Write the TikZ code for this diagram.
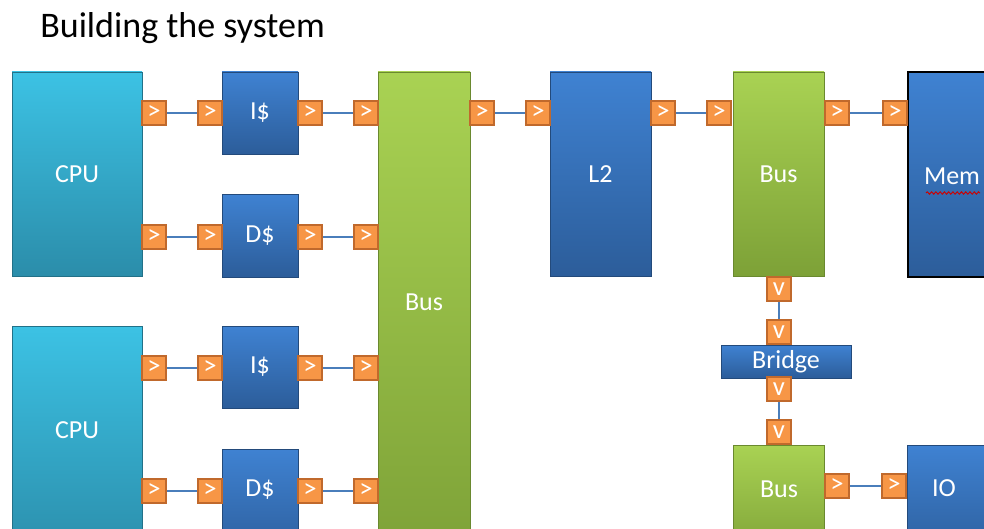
\documentclass[tikz,border=0pt]{standalone}
\usepackage{fontspec}
\setmainfont{Carlito}
\usetikzlibrary{fit,decorations.pathmorphing}
\definecolor{cyanT}{HTML}{3CC2E4}
\definecolor{cyanB}{HTML}{2B8DAA}
\definecolor{blueT}{HTML}{3F82D2}
\definecolor{blueB}{HTML}{2C5D9A}
\definecolor{greenT}{HTML}{A9D253}
\definecolor{greenB}{HTML}{7DA137}
\definecolor{portF}{HTML}{F79646}
\definecolor{portD}{HTML}{C0692C}
\definecolor{wire}{HTML}{4A7EBB}
\tikzset{
  box/.style={inner sep=0pt},
  lbl/.style={inner sep=0pt, text=white, font=\fontsize{19.5}{22}\selectfont},
  cpubox/.style={box, top color=cyanT, bottom color=cyanB, draw=cyanB!80!black, line width=0.4pt},
  bluebox/.style={box, top color=blueT, bottom color=blueB, draw=blueB!80!black, line width=0.4pt},
  busbox/.style={box, top color=greenT, bottom color=greenB, draw=greenB!85!black, line width=0.4pt},
  port/.style={draw=portD, fill=portF, line width=1.3pt, minimum size=18.5pt, inner sep=0pt,
               text=white, font=\fontsize{20}{20}\selectfont},
  conn/.style={draw=wire, line width=1.8pt},
}
\begin{document}
\begin{tikzpicture}[x=0.75pt,y=-0.75pt]
\path[use as bounding box] (0,0) rectangle (984,528);
\clip (0,0) rectangle (984,528);

% title
\node[anchor=base west, inner sep=0pt, font=\fontsize{27}{30}\selectfont] (title) at (40,38) {Building the system};

% first processor with its caches
\node[cpubox, fit={(12,72) (142,276)}] (cpuA) {};
\node[lbl] (cpuAlabel) at (cpuA.center) {CPU};
\node[bluebox, fit={(222,72) (298,154)}] (icA) {};
\node[lbl] (icAlabel) at (icA.center) {I\$};
\node[bluebox, fit={(222,194) (298,277)}] (dcA) {};
\node[lbl] (dcAlabel) at (dcA.center) {D\$};

% second processor with its caches
\node[cpubox, fit={(12,326) (142,560)}] (cpuB) {};
\node[lbl] (cpuBlabel) at (77,430) {CPU};
\node[bluebox, fit={(222,326) (298,408)}] (icB) {};
\node[lbl] (icBlabel) at (icB.center) {I\$};
\node[bluebox, fit={(222,449) (298,560)}] (dcB) {};
\node[lbl] (dcBlabel) at (260,490) {D\$};

% shared bus, L2, memory bus, memory
\node[busbox, fit={(378,72) (470,560)}] (busA) {};
\node[lbl] (busAlabel) at (424,302) {Bus};
\node[bluebox, fit={(550,72) (651,276)}] (ltwo) {};
\node[lbl] (ltwolabel) at (ltwo.center) {L2};
\node[busbox, fit={(733,72) (824,276)}] (busB) {};
\node[lbl] (busBlabel) at (busB.center) {Bus};
\node[bluebox, draw=black, line width=2pt, fit={(908,72) (1000,277)}] (mem) {};
\node[lbl] (memlabel) at (952,176) {Mem};
\draw[red!80!black, line width=0.7pt, decorate,
      decoration={snake, amplitude=0.9pt, segment length=3.2pt}] (926,193) -- (980,193);

% bridge and I/O bus
\node[bluebox, fit={(721,345) (851,378)}] (bridge) {};
\node[lbl] (bridgelabel) at (bridge.center) {Bridge};
\node[busbox, fit={(733,445) (824,560)}] (busC) {};
\node[lbl] (busClabel) at (779,489) {Bus};
\node[bluebox, fit={(907,445) (990,560)}] (io) {};
\node[lbl] (iolabel) at (944,488) {IO};

% ports: first processor
\node[port] (a1) at (154,113) {>};
\node[port] (a2) at (210,113) {>};
\node[port] (a3) at (310,113) {>};
\node[port] (a4) at (366,113) {>};
\node[port] (b1) at (154,237) {>};
\node[port] (b2) at (210,237) {>};
\node[port] (b3) at (310,237) {>};
\node[port] (b4) at (366,237) {>};
% ports: second processor
\node[port] (c1) at (154,368) {>};
\node[port] (c2) at (210,368) {>};
\node[port] (c3) at (310,368) {>};
\node[port] (c4) at (366,368) {>};
\node[port] (d1) at (154,491) {>};
\node[port] (d2) at (210,491) {>};
\node[port] (d3) at (310,491) {>};
\node[port] (d4) at (366,491) {>};
% ports: bus -> L2 -> bus -> memory
\node[port] (e1) at (482,113) {>};
\node[port] (e2) at (538,113) {>};
\node[port] (e3) at (663,113) {>};
\node[port] (e4) at (719,113) {>};
\node[port] (e5) at (837,113) {>};
\node[port] (e6) at (895,113) {>};
% ports: down through the bridge
\node[port] (f1) at (779,289) {v};
\node[port] (f2) at (779,332) {v};
\node[port] (f3) at (779,389) {v};
\node[port] (f4) at (779,432) {v};
% ports: I/O bus -> IO
\node[port] (g1) at (837,486) {>};
\node[port] (g2) at (894,486) {>};

% wires
\foreach \u/\v in {a1/a2,a3/a4,b1/b2,b3/b4,c1/c2,c3/c4,d1/d2,d3/d4,
                   e1/e2,e3/e4,e5/e6,f1/f2,f3/f4,g1/g2}
  \draw[conn] (\u) -- (\v);
\end{tikzpicture}
\end{document}
